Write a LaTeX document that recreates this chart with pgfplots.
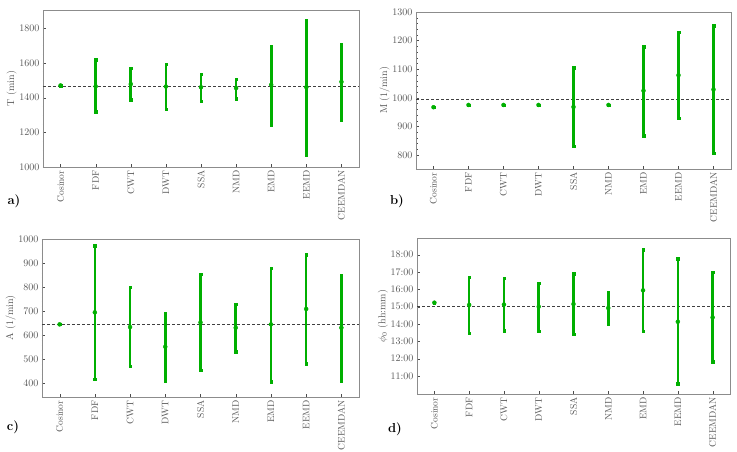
\documentclass[border=0pt]{standalone}
\usepackage{pgfplots}
\usepackage{pgfplotstable}
\pgfplotsset{compat=1.18}
\definecolor{bargreen}{RGB}{0,175,0}
\definecolor{txtgray}{RGB}{85,85,85}
\definecolor{framegray}{RGB}{140,140,140}

% one table per panel: x, centre value, low end, high end
\pgfplotstableread{
x y lo hi
0 1470 1470 1470
1 1465 1318 1618
2 1478 1389 1570
3 1464 1332 1593
4 1460 1380 1535
5 1455 1395 1508
6 1474 1245 1696
7 1460 1069 1848
8 1491 1272 1706
}\Tdata
\pgfplotstableread{
x y lo hi
0 967 967 967
1 975 975 975
2 975 975 975
3 975 975 975
4 968 830 1106
5 975 975 975
6 1025 868 1179
7 1079 928 1230
8 1029 806 1252
}\Mdata
\pgfplotstableread{
x y lo hi
0 645 645 645
1 695 418 972
2 634 471 800
3 552 411 691
4 653 454 854
5 631 532 730
6 645 407 879
7 709 482 935
8 631 411 850
}\Adata
\pgfplotstableread{
x y lo hi
0 15.23 15.23 15.23
1 15.10 13.48 16.69
2 15.12 13.62 16.65
3 15.00 13.58 16.37
4 15.15 13.40 16.90
5 14.92 14.00 15.83
6 15.94 13.58 18.29
7 14.13 10.56 17.77
8 14.38 11.83 17.00
}\Pdata

\pgfplotsset{
  panel/.style={
    scale only axis,
    anchor=south west,
    xmin=-0.5, xmax=8.5,
    xtick={0,...,8},
    xticklabels={Cosinor,FDF,CWT,DWT,SSA,NMD,EMD,EEMD,CEEMDAN},
    x tick label style={rotate=90, anchor=east, font=\fontsize{9.5}{11}\selectfont, text=txtgray},
    y tick label style={font=\fontsize{10}{11}\selectfont, text=txtgray,
      /pgf/number format/1000 sep={}},
    ylabel style={font=\fontsize{10}{11}\selectfont, text=txtgray},
    axis line style={framegray},
    tick style={black!70},
    major tick length=3pt, minor tick length=1.5pt,
    tick align=inside,
    xtick pos=bottom, ytick pos=left,
    ylabel shift=-4pt,
  },
  bars/.style={
    bargreen, line width=2.6pt, only marks, mark=*, mark size=2pt,
    mark options={line width=0.4pt, fill=bargreen},
    error bars/.cd, y dir=both, y explicit,
    error mark=square*, error mark options={bargreen, line width=0.3pt, mark size=1.2pt},
    error bar style={line width=2.6pt, bargreen},
  },
  ref/.style={densely dashed, black!75, line width=0.6pt},
}

\begin{document}
\begin{tikzpicture}
\path[use as bounding box] (0pt,0pt) rectangle (737pt,451pt);

% a) period
\begin{axis}[panel, at={(43pt,284pt)}, width=316pt, height=157pt,
  ymin=1000, ymax=1905, ytick={1000,1200,...,1800}, minor y tick num=3,
  ylabel={T (min)}]
\addplot[ref] coordinates {(-0.5,1468) (8.5,1468)};
\addplot[bars] table[x=x, y=y,
  y error plus expr=\thisrow{hi}-\thisrow{y},
  y error minus expr=\thisrow{y}-\thisrow{lo}] {\Tdata};
\end{axis}

% b) mesor
\begin{axis}[panel, at={(416pt,282pt)}, width=315pt, height=157pt,
  ymin=751, ymax=1300, ytick={800,900,...,1300}, minor y tick num=4,
  ylabel={M (1/min)}]
\addplot[ref] coordinates {(-0.5,996) (8.5,996)};
\addplot[bars] table[x=x, y=y,
  y error plus expr=\thisrow{hi}-\thisrow{y},
  y error minus expr=\thisrow{y}-\thisrow{lo}] {\Mdata};
\end{axis}

% c) amplitude
\begin{axis}[panel, at={(42pt,54pt)}, width=317pt, height=158pt,
  ymin=343, ymax=1000, ytick={400,500,...,1000}, minor y tick num=4,
  ylabel={A (1/min)}]
\addplot[ref] coordinates {(-0.5,646) (8.5,646)};
\addplot[bars] table[x=x, y=y,
  y error plus expr=\thisrow{hi}-\thisrow{y},
  y error minus expr=\thisrow{y}-\thisrow{lo}] {\Adata};
\end{axis}

% d) acrophase
\begin{axis}[panel, at={(417pt,57pt)}, width=313pt, height=156pt,
  ymin=9.96, ymax=18.96, ytick={11,...,18},
  yticklabels={11:00,12:00,13:00,14:00,15:00,16:00,17:00,18:00},
  ylabel={$\phi_0$ (hh:mm)}]
\addplot[ref] coordinates {(-0.5,15) (8.5,15)};
\addplot[bars] table[x=x, y=y,
  y error plus expr=\thisrow{hi}-\thisrow{y},
  y error minus expr=\thisrow{y}-\thisrow{lo}] {\Pdata};
\end{axis}

\node[font=\bfseries\fontsize{13}{14}\selectfont] at (14pt,250pt) {a)};
\node[font=\bfseries\fontsize{13}{14}\selectfont] at (397pt,250pt) {b)};
\node[font=\bfseries\fontsize{13}{14}\selectfont] at (13pt,24pt) {c)};
\node[font=\bfseries\fontsize{13}{14}\selectfont] at (395pt,22pt) {d)};
\end{tikzpicture}
\end{document}
